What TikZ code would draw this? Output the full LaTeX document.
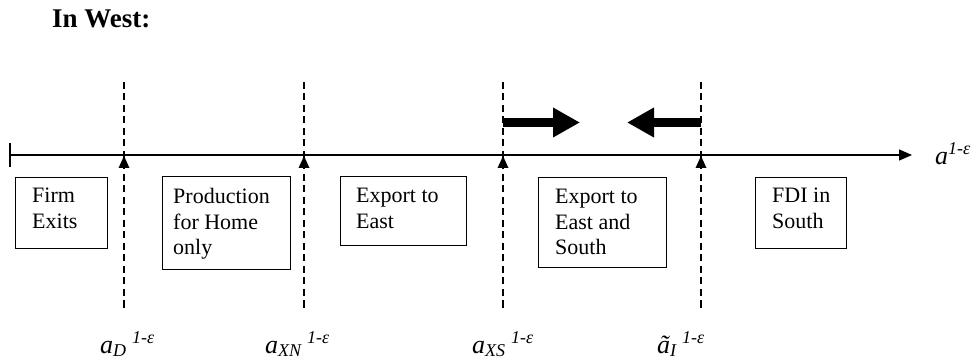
\documentclass[tikz,border=0pt]{standalone}
\usepackage{fontspec}
\setmainfont{Liberation Serif}
\usetikzlibrary{arrows.meta,calc}
\newcommand{\mylbl}[3]{{\fontsize{26}{26}\selectfont\itshape #1}\raisebox{-3pt}{\fontsize{18}{18}\selectfont\itshape #2}\hspace{6pt}\raisebox{10pt}{\fontsize{18}{18}\selectfont\itshape #3}}
\newcommand{\boxlines}[1]{\parbox[t]{125pt}{\raggedright #1}}
\begin{document}
\begin{tikzpicture}[x=1pt,y=-1pt,
  boxst/.style={draw, line width=1.1pt, anchor=north west, inner sep=0pt},
  txt/.style={anchor=base west, inner sep=0pt, font=\fontsize{22}{25.5}\selectfont},
  cut/.style={dash pattern=on 7pt off 4.5pt, line width=1.6pt},
  lbl/.style={anchor=base west, inner sep=0pt}
]
\useasboundingbox (0,0) rectangle (977,363);

% title
\node[lbl, font=\fontsize{27}{27}\selectfont\bfseries] (title) at (52,28) {In West:};

% axis
\coordinate (axL) at (10,155);
\coordinate (axR) at (912,155);
\draw[line width=1.3pt, -{Triangle[length=13pt,width=11pt]}] (axL) -- (axR);
\draw[line width=1.3pt] (10,143) -- (10,167);
\node[lbl] (axlab) at (935,165) {{\fontsize{26}{26}\selectfont\itshape a}\raisebox{10pt}{\fontsize{18}{18}\selectfont\itshape 1-ε}};

% thresholds
\foreach \n/\x in {1/124,2/304,3/503,4/701}{
  \coordinate (top\n) at (\x,82);
  \coordinate (bot\n) at (\x,312);
  \draw[cut] (top\n) -- (bot\n);
  \fill (\x,156) -- (\x-5.5,168) -- (\x+5.5,168) -- cycle;
}

% thick arrows
\coordinate (ra) at (580,122.5);
\coordinate (la) at (627,122.5);
\draw[line width=9pt, -{Triangle[length=27pt,width=28pt]}] (top3 |- ra) -- (ra);
\draw[line width=9pt, -{Triangle[length=27pt,width=28pt]}] (top4 |- la) -- (la);

% boxes
\node[boxst, minimum width=92pt, minimum height=71pt] (b1) at (15,177) {};
\node[boxst, minimum width=128pt, minimum height=93pt] (b2) at (162,176) {};
\node[boxst, minimum width=126pt, minimum height=69pt] (b3) at (340,176) {};
\node[boxst, minimum width=128pt, minimum height=90pt] (b4) at (538,177) {};
\node[boxst, minimum width=91pt, minimum height=71pt] (b5) at (755,177) {};

\node[txt] (t1) at ($(b1.north west)+(17,26)$) {\boxlines{Firm\\Exits}};
\node[txt] (t2) at ($(b2.north west)+(11,28)$) {\boxlines{Production\\for Home\\only}};
\node[txt] (t3) at ($(b3.north west)+(16,27)$) {\boxlines{Export to\\East}};
\node[txt] (t4) at ($(b4.north west)+(17,27)$) {\boxlines{Export to\\East and\\South}};
\node[txt] (t5) at ($(b5.north west)+(17,26)$) {\boxlines{FDI in\\South}};

% bottom labels
\node[lbl] (l1) at (100,353) {\mylbl{a}{D}{1-ε}};
\node[lbl] (l2) at (265,353) {\mylbl{a}{XN}{1-ε}};
\node[lbl] (l3) at (472,353) {\mylbl{a}{XS}{1-ε}};
\node[lbl] (l4) at (657,353) {\mylbl{ã}{I}{1-ε}};
\end{tikzpicture}
\end{document}
